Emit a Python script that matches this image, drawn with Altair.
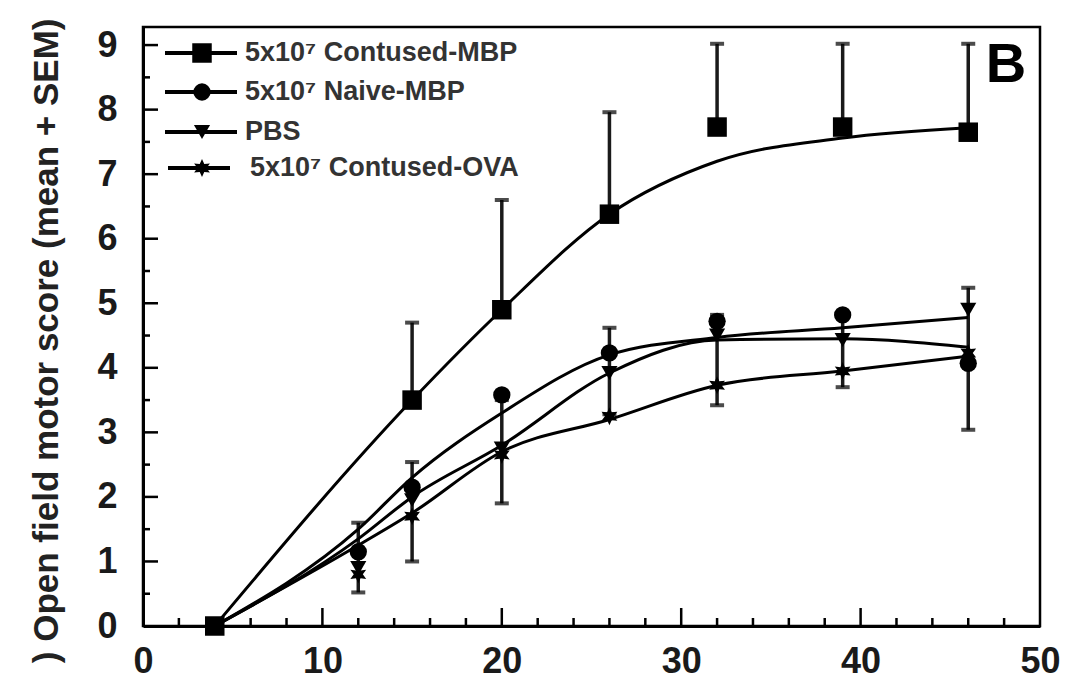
import altair as alt
import pandas as pd

# ---- data ----
days_c = [4, 15, 20, 26, 32, 39, 46]
mean_c = [0, 3.5, 4.9, 6.38, 7.73, 7.73, 7.65]
upper_c = [0, 4.7, 6.6, 7.96, 9.02, 9.02, 9.02]
fit_c = [0, 3.5, 4.9, 6.38, 7.2, 7.56, 7.72]

days = [4, 12, 15, 20, 26, 32, 39, 46]
mean_naive = [0, 1.15, 2.15, 3.58, 4.23, 4.72, 4.82, 4.07]
fit_naive = [0, 1.5, 2.3, 3.3, 4.2, 4.47, 4.62, 4.78]
mean_pbs = [0, 0.9, 1.95, 2.75, 3.92, 4.5, 4.43, 4.9]
fit_pbs = [0, 1.35, 2.0, 2.8, 3.92, 4.43, 4.45, 4.32]
mean_ova = [0, 0.8, 1.7, 2.65, 3.25, 3.73, 3.95, 4.23]
fit_ova = [0, 1.25, 1.75, 2.7, 3.2, 3.73, 3.95, 4.18]

err_days = [12, 15, 20, 26, 32, 39, 46]
err_lo = [0.52, 1.0, 1.9, 3.28, 3.42, 3.7, 3.04]
err_hi = [1.6, 2.54, 3.5, 4.62, 4.82, 4.82, 5.24]

legend_labels = ["5x10\u2077 Contused-MBP", "5x10\u2077 Naive-MBP", "PBS", "5x10\u2077 Contused-OVA"]
x_tick_labels = [0, 10, 20, 30, 40, 50]
y_tick_labels = [0, 1, 2, 3, 4, 5, 6, 7, 8, 9]
x_major_ticks = [10, 20, 30, 40]
x_minor_ticks = [2, 4, 6, 8, 12, 14, 16, 18, 22, 24, 26, 28, 32, 34, 36, 38, 42, 44, 46, 48]
y_major_ticks = [1, 2, 3, 4, 5, 6, 7, 8, 9]
y_minor_ticks = [0.5, 1.5, 2.5, 3.5, 4.5, 5.5, 6.5, 7.5, 8.5]

W, H = 897, 599
FONT = "Liberation Sans"
STAR = "M0,-1L0.25,-0.43L0.87,-0.5L0.5,0L0.87,0.5L0.25,0.43L0,1L-0.25,0.43L-0.87,0.5L-0.5,0L-0.87,-0.5L-0.25,-0.43Z"

xscale = alt.Scale(domain=[0, 50], nice=False, zero=False)
yscale = alt.Scale(domain=[0, 9.28], nice=False, zero=False)

x_axis = alt.Axis(values=x_tick_labels, ticks=False, grid=False, domain=True, domainColor="black",
                  domainWidth=3, labelFont=FONT, labelFontSize=36, labelFontWeight="bold",
                  labelColor="#1a1a1a", labelPadding=18, title=None, labelFlush=False)
y_axis = alt.Axis(values=y_tick_labels, ticks=False, grid=False, domain=True, domainColor="black",
                  domainWidth=3, labelFont=FONT, labelFontSize=36, labelFontWeight="bold",
                  labelColor="#1a1a1a", labelPadding=26, labelFlush=False,
                  title=") Open field motor score (mean + SEM)", titleFont=FONT, titleFontSize=35,
                  titleFontWeight="bold", titleColor="#222222", titleAngle=270, titleX=-97, titleY=-9,
                  titleAlign="right", titleBaseline="middle")


def X(field="day"):
    return alt.X(f"{field}:Q", scale=xscale, axis=x_axis)


def Y(field="v"):
    return alt.Y(f"{field}:Q", scale=yscale, axis=y_axis)


layers = []

base_df = pd.DataFrame({"day": days_c, "v": fit_c})
layers.append(alt.Chart(base_df).mark_line(color="black", strokeWidth=3, interpolate="monotone")
              .encode(x=X(), y=Y()))

# inward ticks
tx_major = pd.DataFrame({"day": x_major_ticks})
tx_minor = pd.DataFrame({"day": x_minor_ticks})
ty_major = pd.DataFrame({"v": y_major_ticks})
ty_minor = pd.DataFrame({"v": y_minor_ticks})
layers.append(alt.Chart(tx_major).mark_rule(color="black", strokeWidth=2.5)
              .encode(x=X(), y=alt.value(H), y2=alt.value(H - 18)))
layers.append(alt.Chart(tx_minor).mark_rule(color="black", strokeWidth=2.5)
              .encode(x=X(), y=alt.value(H), y2=alt.value(H - 8)))
layers.append(alt.Chart(ty_major).mark_rule(color="black", strokeWidth=2.5)
              .encode(y=Y(), x=alt.value(0), x2=alt.value(15)))
layers.append(alt.Chart(ty_minor).mark_rule(color="black", strokeWidth=2.5)
              .encode(y=Y(), x=alt.value(0), x2=alt.value(7)))

# error bars, contused-MBP (upper only)
ec = pd.DataFrame({"day": days_c[1:], "lo": mean_c[1:], "hi": upper_c[1:]})
layers.append(alt.Chart(ec).mark_rule(color="#1a1a1a", strokeWidth=3.5)
              .encode(x=X(), y=Y("lo"), y2="hi:Q"))
layers.append(alt.Chart(ec).mark_point(shape="stroke", size=196, strokeWidth=4, color="black")
              .encode(x=X(), y=Y("hi")))

# error bars, lower groups
el = pd.DataFrame({"day": err_days, "lo": err_lo, "hi": err_hi})
layers.append(alt.Chart(el).mark_rule(color="#1a1a1a", strokeWidth=3.5)
              .encode(x=X(), y=Y("lo"), y2="hi:Q"))
layers.append(alt.Chart(el).mark_point(shape="stroke", size=196, strokeWidth=4, color="black")
              .encode(x=X(), y=Y("hi")))
layers.append(alt.Chart(el).mark_point(shape="stroke", size=196, strokeWidth=4, color="black")
              .encode(x=X(), y=Y("lo")))

# fitted lines of the lower groups
for fit in (fit_naive, fit_pbs, fit_ova):
    d = pd.DataFrame({"day": days, "v": fit})
    layers.append(alt.Chart(d).mark_line(color="black", strokeWidth=3, interpolate="monotone")
                  .encode(x=X(), y=Y()))

# markers
series = [
    (days_c, mean_c, "square", 380),
    (days, mean_naive, "circle", 300),
    (days, mean_pbs, "triangle-down", 260),
    (days, mean_ova, STAR, 330),
]
for dd, mm, shp, sz in series:
    d = pd.DataFrame({"day": dd, "v": mm})
    layers.append(alt.Chart(d).mark_point(shape=shp, size=sz, filled=True, color="black", opacity=1)
                  .encode(x=X(), y=Y()))

# legend (drawn inside the plot, top-left)
one = pd.DataFrame({"a": [0]})
row_y = [26, 65, 105, 141]
row_x0 = [22, 22, 22, 25]
row_x1 = [94, 94, 94, 87]
row_tx = [102, 102, 102, 107]
for i, lab in enumerate(legend_labels):
    shp, sz = series[i][2], series[i][3]
    layers.append(alt.Chart(one).mark_rule(color="black", strokeWidth=4)
                  .encode(x=alt.value(row_x0[i]), x2=alt.value(row_x1[i]), y=alt.value(row_y[i])))
    layers.append(alt.Chart(one).mark_point(shape=shp, size=sz, filled=True, color="black", opacity=1)
                  .encode(x=alt.value(59), y=alt.value(row_y[i])))
    layers.append(alt.Chart(pd.DataFrame({"t": [lab]})).mark_text(
        font=FONT, fontSize=27, fontWeight="bold", color="#333333", align="left", baseline="middle")
        .encode(x=alt.value(row_tx[i]), y=alt.value(row_y[i]), text="t:N"))

# panel letter
layers.append(alt.Chart(pd.DataFrame({"t": ["B"]})).mark_text(
    font=FONT, fontSize=56, fontWeight="bold", color="black", align="center", baseline="alphabetic")
    .encode(x=alt.value(863), y=alt.value(55), text="t:N"))

chart = (alt.layer(*layers)
         .properties(width=W, height=H, background="white",
                     autosize=alt.AutoSizeParams(type="none"),
                     padding={"left": 135, "top": 19, "right": 20, "bottom": 56})
         .configure_view(stroke="black", strokeWidth=2.5))

chart.save("out.html", embed_options={"renderer": "svg", "actions": False})
